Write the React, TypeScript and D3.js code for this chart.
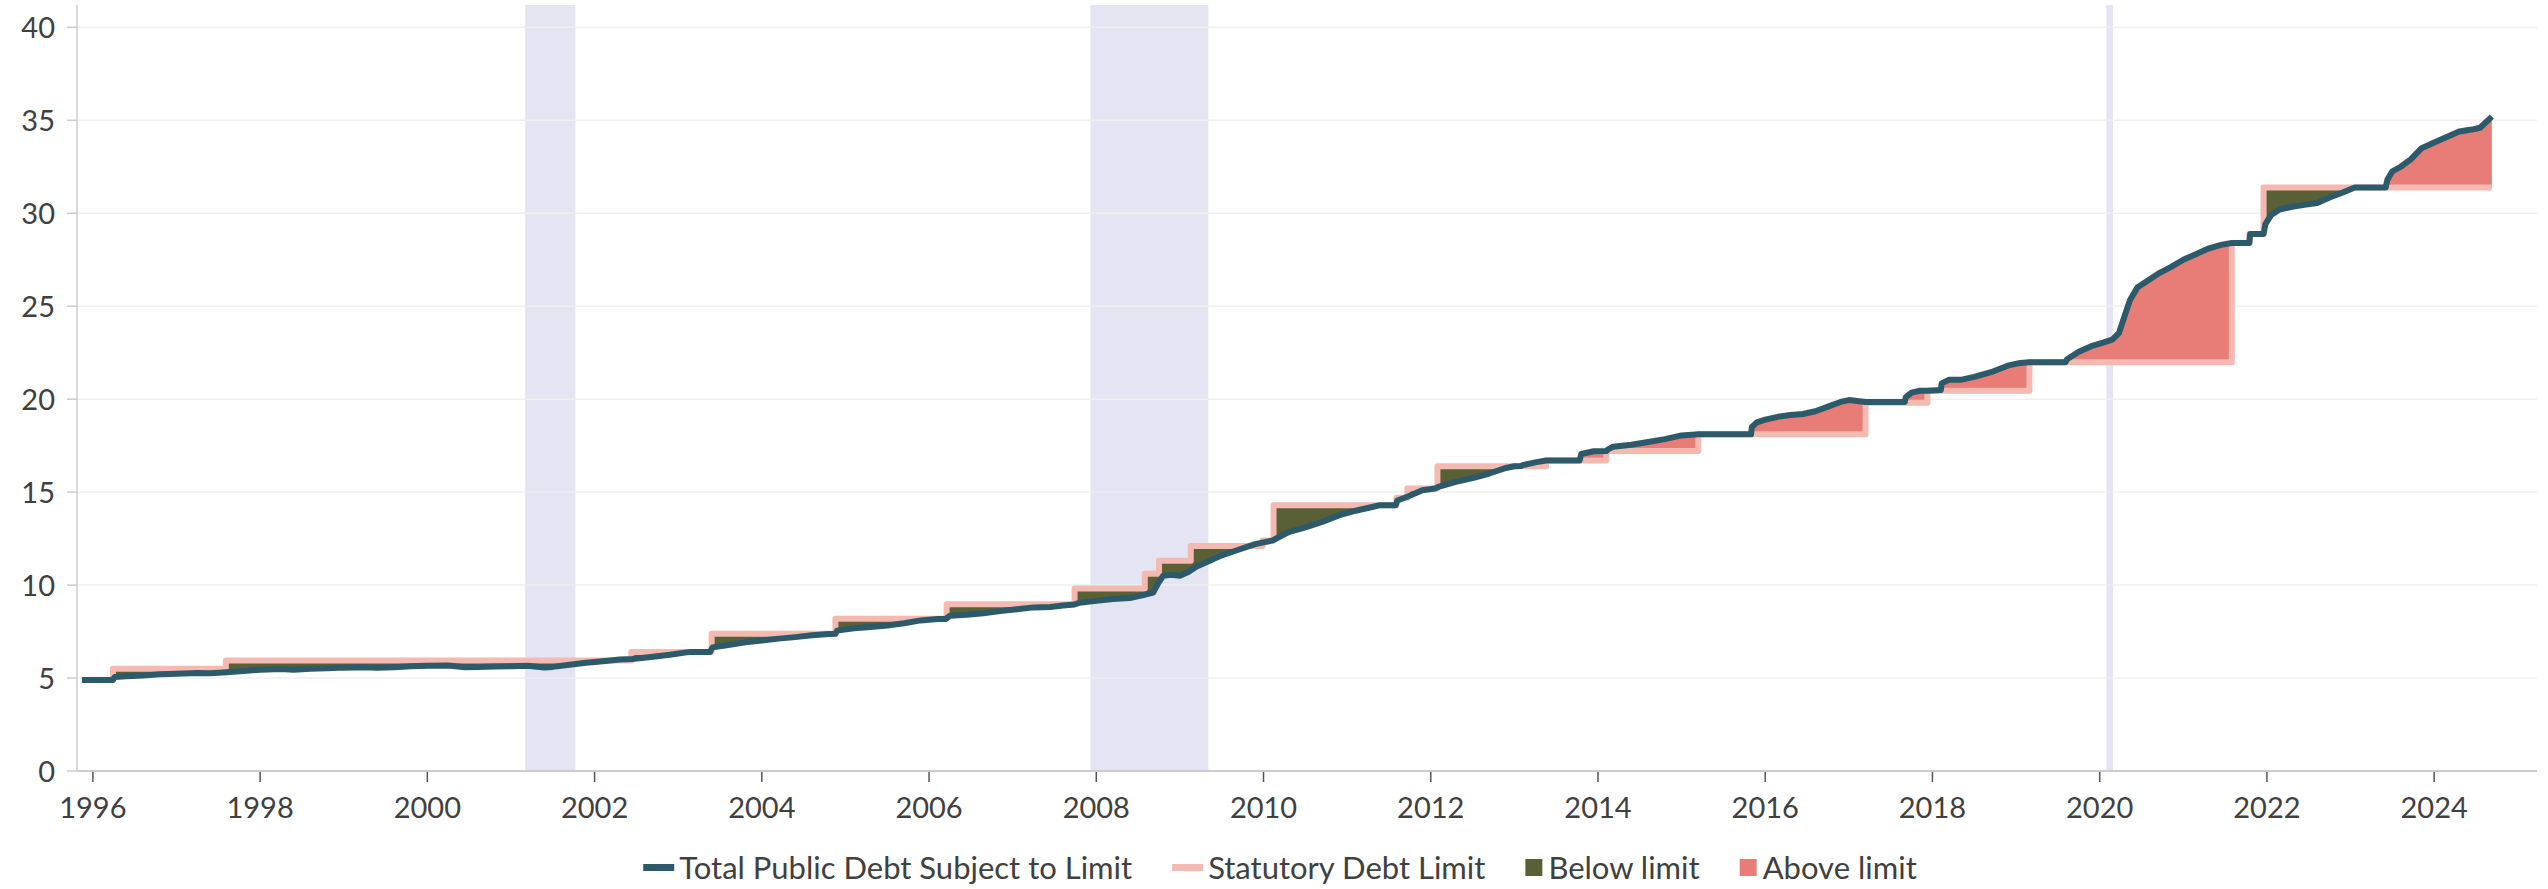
import React, { useEffect, useRef } from 'react';
import * as d3 from 'd3';

const W = 2548;
const H = 889;

// Total public debt subject to limit ($ trillions), by decimal year
const debtDates = [
  1995.87, 1996.24, 1996.26, 1996.4, 1996.6, 1996.8, 1997.0, 1997.25, 1997.4, 1997.6, 1997.8,
  1998.0, 1998.25, 1998.4, 1998.6, 1998.8, 1999.0, 1999.25, 1999.4, 1999.6, 1999.8,
  2000.0, 2000.25, 2000.45, 2000.6, 2000.8, 2001.0, 2001.2, 2001.4, 2001.5, 2001.7, 2001.9,
  2002.1, 2002.3, 2002.45, 2002.7, 2002.9, 2003.1, 2003.15, 2003.38, 2003.41, 2003.6, 2003.8,
  2004.0, 2004.2, 2004.4, 2004.6, 2004.8, 2004.88, 2004.9, 2005.1, 2005.3, 2005.5, 2005.7, 2005.9,
  2006.1, 2006.2, 2006.25, 2006.45, 2006.65, 2006.85, 2007.05, 2007.25, 2007.45, 2007.6, 2007.74,
  2007.8, 2008.0, 2008.2, 2008.4, 2008.55, 2008.68, 2008.74, 2008.8, 2008.9, 2009.0, 2009.1,
  2009.2, 2009.35, 2009.5, 2009.7, 2009.9, 2010.0, 2010.1, 2010.13, 2010.3, 2010.5, 2010.7, 2010.9,
  2011.1, 2011.3, 2011.38, 2011.58, 2011.6, 2011.72, 2011.9, 2012.05, 2012.1, 2012.3, 2012.5,
  2012.7, 2012.9, 2013.0, 2013.08, 2013.1, 2013.25, 2013.38, 2013.78, 2013.8, 2013.95, 2014.1,
  2014.12, 2014.18, 2014.4, 2014.6, 2014.8, 2015.0, 2015.2, 2015.83, 2015.84, 2015.9, 2016.0,
  2016.15, 2016.3, 2016.45, 2016.6, 2016.75, 2016.9, 2017.0, 2017.1, 2017.2, 2017.67, 2017.68,
  2017.75, 2017.85, 2017.94, 2018.1, 2018.11, 2018.2, 2018.35, 2018.5, 2018.7, 2018.9, 2019.05,
  2019.16, 2019.59, 2019.61, 2019.75, 2019.9, 2020.05, 2020.15, 2020.23, 2020.3, 2020.36, 2020.45,
  2020.55, 2020.7, 2020.85, 2021.0, 2021.15, 2021.3, 2021.45, 2021.58, 2021.79, 2021.8, 2021.96,
  2021.98, 2022.05, 2022.15, 2022.3, 2022.45, 2022.6, 2022.75, 2022.9, 2023.05, 2023.42, 2023.44,
  2023.5, 2023.6, 2023.72, 2023.85, 2024.0, 2024.15, 2024.3, 2024.45, 2024.55, 2024.69,
];
const debtValues = [
  4.9, 4.9, 5.05, 5.1, 5.13, 5.2, 5.23, 5.27, 5.26, 5.31, 5.38,
  5.45, 5.48, 5.45, 5.5, 5.52, 5.56, 5.58, 5.55, 5.58, 5.63,
  5.66, 5.67, 5.58, 5.6, 5.62, 5.64, 5.66, 5.57, 5.6, 5.72, 5.82,
  5.9, 6.0, 6.02, 6.15, 6.25, 6.38, 6.4, 6.4, 6.65, 6.78, 6.92,
  7.02, 7.12, 7.2, 7.3, 7.37, 7.38, 7.55, 7.68, 7.75, 7.83, 7.95, 8.1,
  8.18, 8.18, 8.35, 8.4, 8.48, 8.6, 8.7, 8.8, 8.82, 8.9, 8.96,
  9.05, 9.15, 9.25, 9.3, 9.45, 9.6, 10.1, 10.5, 10.55, 10.5, 10.7,
  11.0, 11.3, 11.6, 11.9, 12.2, 12.3, 12.39, 12.45, 12.85, 13.1, 13.4, 13.75,
  14.0, 14.2, 14.29, 14.29, 14.55, 14.75, 15.1, 15.19, 15.3, 15.55, 15.75,
  16.0, 16.3, 16.39, 16.4, 16.45, 16.6, 16.7, 16.7, 17.05, 17.2, 17.21,
  17.3, 17.44, 17.55, 17.7, 17.85, 18.05, 18.11, 18.11, 18.5, 18.75, 18.9,
  19.05, 19.15, 19.2, 19.35, 19.6, 19.85, 19.95, 19.9, 19.85, 19.85, 20.1,
  20.35, 20.45, 20.45, 20.49, 20.85, 21.05, 21.05, 21.2, 21.45, 21.8, 21.95,
  21.99, 21.99, 22.15, 22.55, 22.85, 23.05, 23.2, 23.55, 24.5, 25.3, 26.0,
  26.3, 26.75, 27.1, 27.5, 27.8, 28.1, 28.3, 28.4, 28.4, 28.88, 28.88,
  29.4, 29.9, 30.2, 30.35, 30.45, 30.55, 30.85, 31.1, 31.38, 31.38, 31.8,
  32.25, 32.5, 32.9, 33.5, 33.8, 34.1, 34.4, 34.5, 34.6, 35.2,
];

// Statutory debt limit ($ trillions), step starts
const limitDates = [
  1995.87, 1996.24, 1997.59, 2002.44, 2003.4, 2004.88, 2006.21, 2007.74, 2008.58, 2008.75,
  2009.13, 2009.99, 2010.12, 2011.59, 2011.72, 2012.08, 2013.38, 2014.1, 2015.2, 2017.2,
  2017.94, 2019.16, 2021.58, 2021.79, 2021.96,
];
const limitValues = [
  4.9, 5.5, 5.95, 6.4, 7.384, 8.184, 8.965, 9.815, 10.615, 11.315,
  12.104, 12.394, 14.294, 14.694, 15.194, 16.394, 16.699, 17.212, 18.113, 19.809,
  20.456, 21.988, 28.401, 28.881, 31.381,
];

// Recession shading
const recessionStarts = [2001.17, 2007.93, 2020.08];
const recessionEnds = [2001.77, 2009.34, 2020.16];

const yTickValues = [0, 5, 10, 15, 20, 25, 30, 35, 40];
const xTickYears = [1996, 1998, 2000, 2002, 2004, 2006, 2008, 2010, 2012, 2014, 2016, 2018, 2020, 2022, 2024];
const legendLabels = ['Total Public Debt Subject to Limit', 'Statutory Debt Limit', 'Below limit', 'Above limit'];

const C = {
  debt: '#2c5a6a',
  limit: '#f4b9b1',
  below: '#596036',
  above: '#e87d78',
  recession: '#e4e4f2',
  grid: '#efefef',
  axis: '#cccccc',
  tick: '#555555',
  text: '#404040',
};
const FONT = 'Lato, "Open Sans", sans-serif';

type S = { t: number; d: number; l: number };

export default function App() {
  const ref = useRef<SVGSVGElement>(null);

  useEffect(() => {
    const svg = d3.select(ref.current);
    svg.selectAll('*').remove();

    const x = d3.scaleLinear().domain([1995.81, 2025.23]).range([77, 2537]);
    const y = d3.scaleLinear().domain([0, 41.2]).range([771, 5]);
    const [x0, x1] = x.range();
    const [yb, yt] = y.range();

    // recession bands
    svg.append('g').selectAll('rect').data(recessionStarts).join('rect')
      .attr('x', (d) => x(d)).attr('y', yt)
      .attr('width', (d, i) => x(recessionEnds[i]) - x(d)).attr('height', yb - yt)
      .attr('fill', C.recession);

    // gridlines
    svg.append('g').selectAll('line').data(yTickValues.filter((v) => v > 0)).join('line')
      .attr('x1', x0).attr('x2', x1).attr('y1', (d) => y(d)).attr('y2', (d) => y(d))
      .attr('stroke', C.grid).attr('stroke-width', 1.5);

    // fills
    const endT = debtDates[debtDates.length - 1];
    const limitAt = (t: number) => {
      let v = limitValues[0];
      for (let i = 0; i < limitDates.length; i++) if (limitDates[i] <= t) v = limitValues[i];
      return v;
    };
    const debtAt = (t: number) => {
      if (t <= debtDates[0]) return debtValues[0];
      for (let i = 1; i < debtDates.length; i++) {
        if (t <= debtDates[i]) {
          const f = (t - debtDates[i - 1]) / (debtDates[i] - debtDates[i - 1]);
          return debtValues[i - 1] + f * (debtValues[i] - debtValues[i - 1]);
        }
      }
      return debtValues[debtValues.length - 1];
    };
    const times = Array.from(new Set([...debtDates, ...limitDates.filter((t) => t > debtDates[0] && t < endT)])).sort((a, b) => a - b);
    const samples: S[] = [];
    for (const t of times) {
      const d = debtAt(t);
      const idx = limitDates.indexOf(t);
      if (idx > 0) samples.push({ t, d, l: limitValues[idx - 1] });
      samples.push({ t, d, l: limitAt(t) });
    }
    const pts: S[] = [];
    samples.forEach((s, i) => {
      if (i > 0) {
        const p = samples[i - 1];
        if (p.t !== s.t) {
          const a = p.d - p.l;
          const b = s.d - p.l;
          if (a * b < 0) {
            const f = a / (a - b);
            pts.push({ t: p.t + f * (s.t - p.t), d: p.l, l: p.l });
          }
        }
      }
      pts.push(s);
    });

    const aboveArea = d3.area<S>().x((d) => x(d.t)).y0((d) => y(d.l)).y1((d) => y(Math.max(d.d, d.l)));
    const belowArea = d3.area<S>().x((d) => x(d.t)).y0((d) => y(d.l)).y1((d) => y(Math.min(d.d, d.l)));
    svg.append('path').datum(pts).attr('d', belowArea).attr('fill', C.below);
    svg.append('path').datum(pts).attr('d', aboveArea).attr('fill', C.above);

    // statutory limit (step)
    const limitPts: [number, number][] = limitDates.map((t, i) => [t, limitValues[i]]);
    limitPts.push([endT, limitValues[limitValues.length - 1]]);
    const stepLine = d3.line<[number, number]>().x((d) => x(d[0])).y((d) => y(d[1])).curve(d3.curveStepAfter);
    svg.append('path').datum(limitPts).attr('d', stepLine).attr('fill', 'none')
      .attr('stroke', C.limit).attr('stroke-width', 6).attr('stroke-linejoin', 'round');

    // debt line
    const debtPts: [number, number][] = debtDates.map((t, i) => [t, debtValues[i]]);
    const line = d3.line<[number, number]>().x((d) => x(d[0])).y((d) => y(d[1]));
    svg.append('path').datum(debtPts).attr('d', line).attr('fill', 'none')
      .attr('stroke', C.debt).attr('stroke-width', 6).attr('stroke-linejoin', 'round');

    // axes
    svg.append('line').attr('x1', x0).attr('x2', x0).attr('y1', yt).attr('y2', yb)
      .attr('stroke', C.axis).attr('stroke-width', 1.5);
    svg.append('line').attr('x1', x0).attr('x2', x1).attr('y1', yb).attr('y2', yb)
      .attr('stroke', C.axis).attr('stroke-width', 2);

    const yt_g = svg.append('g');
    yt_g.selectAll('line').data(yTickValues).join('line')
      .attr('x1', x0 - 10).attr('x2', x0).attr('y1', (d) => y(d)).attr('y2', (d) => y(d))
      .attr('stroke', C.axis).attr('stroke-width', 1.5);
    yt_g.selectAll('text').data(yTickValues).join('text')
      .attr('x', 55).attr('y', (d) => y(d) + 10.5).attr('text-anchor', 'end')
      .attr('font-family', FONT).attr('font-size', 29).attr('fill', C.text).text((d) => String(d));

    const xt_g = svg.append('g');
    xt_g.selectAll('line').data(xTickYears).join('line')
      .attr('x1', (d) => x(d)).attr('x2', (d) => x(d)).attr('y1', yb + 1).attr('y2', yb + 11)
      .attr('stroke', C.tick).attr('stroke-width', 1.5);
    xt_g.selectAll('text').data(xTickYears).join('text')
      .attr('x', (d) => x(d)).attr('y', 818).attr('text-anchor', 'middle')
      .attr('font-family', FONT).attr('font-size', 29).attr('fill', C.text).text((d) => String(d));

    // legend
    const lg = svg.append('g');
    const kinds = ['line', 'line', 'rect', 'rect'];
    const colors = [C.debt, C.limit, C.below, C.above];
    let cx = 0;
    const baseY = 879;
    legendLabels.forEach((lab, i) => {
      if (kinds[i] === 'line') {
        lg.append('rect').attr('x', cx).attr('y', baseY - 15).attr('width', 31).attr('height', 7).attr('fill', colors[i]);
        cx += 36;
      } else {
        lg.append('rect').attr('x', cx).attr('y', baseY - 20).attr('width', 17).attr('height', 17).attr('fill', colors[i]);
        cx += 23;
      }
      const t = lg.append('text').attr('x', cx).attr('y', baseY)
        .attr('font-family', FONT).attr('font-size', 31).attr('fill', C.text).text(lab);
      const w = (t.node() as SVGTextElement).getComputedTextLength();
      cx += w + 40;
    });
    const total = cx - 40;
    lg.attr('transform', `translate(${1280 - total / 2},0)`);
  }, []);

  return (
    <svg
      ref={ref}
      width={W}
      height={H}
      style={{ position: 'absolute', left: 0, top: 0, background: '#fff' }}
    />
  );
}
